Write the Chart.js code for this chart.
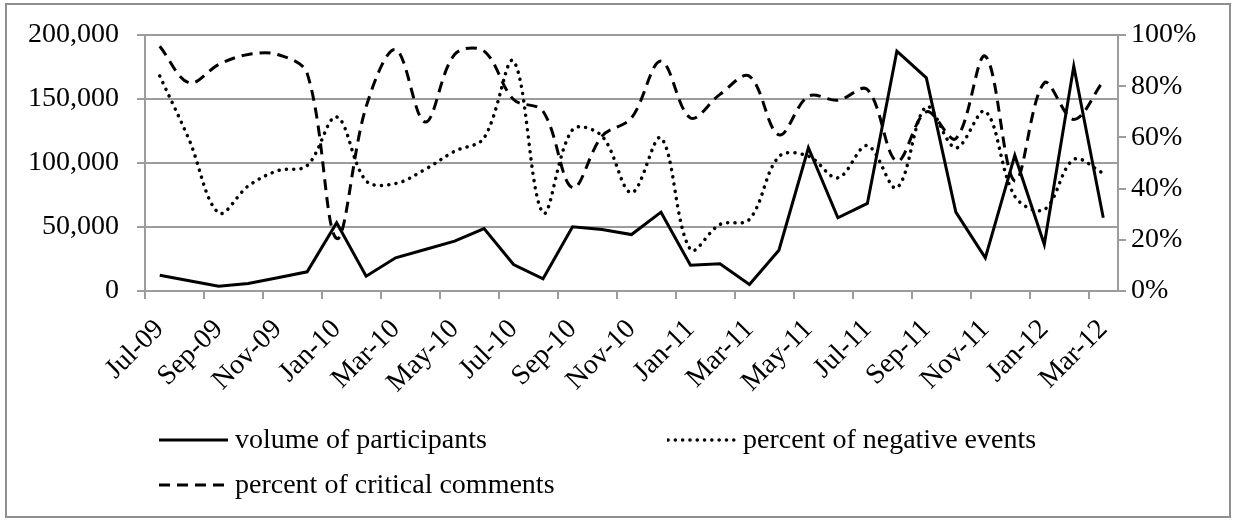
<!DOCTYPE html>
<html>
<head>
<meta charset="utf-8">
<title>Participants and comments</title>
<script src="https://cdn.jsdelivr.net/npm/chart.js@4.4.1/dist/chart.umd.min.js"></script>
<style>
  html, body { margin: 0; padding: 0; background: #fff; }
  #wrap {
    position: relative;
    width: 1236px;
    height: 521px;
    font-family: "Liberation Serif", "Times New Roman", serif;
  }
  #frame {
    position: absolute;
    left: 5px;
    top: 3px;
    width: 1222px;
    height: 511px;
    border: 2px solid #8f8f8f;
    pointer-events: none;
  }
  #myChart { position: absolute; left: 0; top: 0; }
  .legend-line { position: absolute; }
  .legend-text {
    position: absolute;
    font-size: 28px;
    line-height: 28px;
    color: #000;
    white-space: nowrap;
  }
</style>
</head>
<body>
<div id="wrap">
  <canvas id="myChart" width="1236" height="521"></canvas>
  <div id="legend"></div>
  <div id="frame"></div>
</div>
<script>
const months = [
  "Jul-09", "Aug-09", "Sep-09", "Oct-09", "Nov-09", "Dec-09",
  "Jan-10", "Feb-10", "Mar-10", "Apr-10", "May-10", "Jun-10",
  "Jul-10", "Aug-10", "Sep-10", "Oct-10", "Nov-10", "Dec-10",
  "Jan-11", "Feb-11", "Mar-11", "Apr-11", "May-11", "Jun-11",
  "Jul-11", "Aug-11", "Sep-11", "Oct-11", "Nov-11", "Dec-11",
  "Jan-12", "Feb-12", "Mar-12",
];

// volume of participants (left axis)
const participants = [
  12300, 8000, 3700, 5800, 10300, 15000,
  53300, 11600, 25900, 32400, 38900, 48800,
  20700, 9500, 50100, 48000, 44100, 61600,
  20200, 21200, 5100, 31900, 111900, 57200,
  68400, 187300, 166500, 61600, 25900, 105900,
  36300, 175600, 57200,
];

// percent of negative events (right axis)
const negativeEvents = [
  84, 59, 30.5, 41, 47, 49,
  68, 43, 42, 47.5, 54.6, 59.8,
  89.8, 30.5, 63, 60.5, 38.4, 59.8,
  16.2, 26, 28, 52.5, 52.7, 44.2,
  56.8, 40.3, 72, 55.9, 70.2, 37,
  31.8, 51.4, 46,
];

// percent of critical comments (right axis)
const criticalComments = [
  95.6, 81.3, 88.5, 92.4, 92.4, 85,
  20.5, 72, 94.3, 66, 92.4, 93.7,
  74.8, 70.2, 40.3, 60.5, 67.6, 89.8,
  67.6, 76.8, 83.9, 61, 76.1, 74.5,
  78.7, 50.7, 70, 59.5, 91.7, 43,
  81.3, 67, 82,
];

const FONT = { family: '"Liberation Serif", "Times New Roman", serif', size: 28 };
const GRID = "#9c9c9c";

let myChart;

function createChart() {
  const ctx = document.getElementById("myChart").getContext("2d");

  myChart = new Chart(ctx, {
    type: "line",
    data: {
      labels: months,
      datasets: [
        {
          label: "volume of participants",
          data: participants,
          yAxisID: "y",
          borderColor: "#000",
          borderWidth: 3,
          pointRadius: 0,
          tension: 0,
          fill: false,
        },
        {
          label: "percent of negative events",
          data: negativeEvents,
          yAxisID: "y1",
          borderColor: "#000",
          borderWidth: 3.5,
          borderDash: [0.1, 7.2],
          borderCapStyle: "round",
          pointRadius: 0,
          tension: 0.35,
          fill: false,
        },
        {
          label: "percent of critical comments",
          data: criticalComments,
          yAxisID: "y1",
          borderColor: "#000",
          borderWidth: 3,
          borderDash: [11, 7],
          pointRadius: 0,
          tension: 0.35,
          fill: false,
        },
      ],
    },
    options: {
      responsive: false,
      animation: false,
      devicePixelRatio: 1,
      layout: { padding: { top: 35, left: 0, right: 0, bottom: 0 } },
      plugins: {
        legend: { display: false },
        tooltip: { enabled: false },
      },
      scales: {
        x: {
          offset: true,
          grid: {
            offset: true,
            drawOnChartArea: false,
            drawTicks: true,
            tickLength: 8,
            lineWidth: 2,
            color: (c) => (c.index % 2 === 0 ? GRID : "rgba(0,0,0,0)"),
          },
          border: { color: GRID, width: 2 },
          ticks: {
            autoSkip: false,
            minRotation: 45,
            maxRotation: 45,
            padding: 14,
            color: "#000",
            font: FONT,
            callback: function (value, index) {
              return index % 2 === 0 ? this.getLabelForValue(value) : "";
            },
          },
          afterFit: (scale) => {
            scale.height = 230;
          },
        },
        y: {
          position: "left",
          min: 0,
          max: 200000,
          ticks: {
            stepSize: 50000,
            padding: 18,
            color: "#000",
            font: FONT,
            callback: (v) => v.toLocaleString("en-US"),
          },
          grid: { color: GRID, lineWidth: 2, tickLength: 8 },
          border: { color: GRID, width: 2 },
          afterFit: (scale) => {
            scale.width = 145;
          },
        },
        y1: {
          position: "right",
          min: 0,
          max: 100,
          ticks: {
            stepSize: 20,
            padding: 5,
            color: "#000",
            font: FONT,
            callback: (v) => v + "%",
          },
          grid: { drawOnChartArea: false, color: GRID, lineWidth: 2, tickLength: 8 },
          border: { color: GRID, width: 2 },
          afterFit: (scale) => {
            scale.width = 118;
          },
        },
      },
    },
  });
}

// legend laid out in two columns like the original
function buildLegend() {
  const slots = [
    { x: 158, y: 440, textX: 235 },
    { x: 667, y: 440, textX: 743 },
    { x: 158, y: 485, textX: 235 },
  ];
  const legend = document.getElementById("legend");
  myChart.data.datasets.forEach((ds, i) => {
    const s = slots[i];
    const dash = ds.borderDash ? ds.borderDash.join(" ") : "none";
    const cap = ds.borderCapStyle || "butt";
    const svg = document.createElementNS("http://www.w3.org/2000/svg", "svg");
    svg.setAttribute("class", "legend-line");
    svg.setAttribute("width", "72");
    svg.setAttribute("height", "10");
    svg.style.left = s.x + "px";
    svg.style.top = s.y - 5 + "px";
    svg.innerHTML = `<line x1="1" y1="5" x2="70" y2="5" stroke="#000" stroke-width="${ds.borderWidth}" stroke-dasharray="${dash}" stroke-linecap="${cap}"/>`;
    legend.appendChild(svg);

    const text = document.createElement("div");
    text.className = "legend-text";
    text.textContent = ds.label;
    text.style.left = s.textX + "px";
    text.style.top = s.y - 15 + "px";
    legend.appendChild(text);
  });
}

createChart();
buildLegend();
</script>
</body>
</html>
